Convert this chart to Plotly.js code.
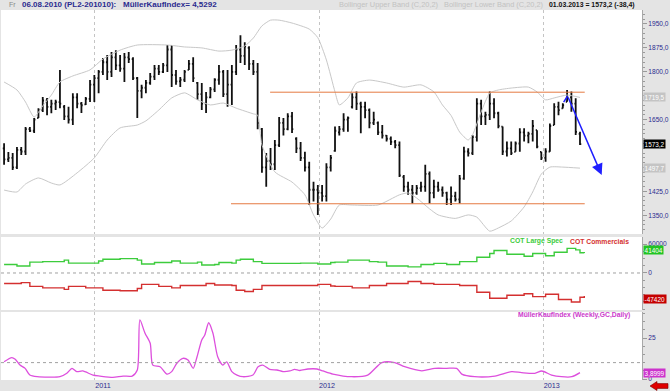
<!DOCTYPE html>
<html><head><meta charset="utf-8">
<script src="https://cdn.plot.ly/plotly-3.0.1.min.js"></script>
<style>html,body{margin:0;padding:0;background:#e4e4e4;overflow:hidden}#chart{width:670px;height:391px}</style>
</head><body><div id="chart"></div>
<script>
// ---- data (weekly bars, PL2 platinum) ----
const firstWeek = '2010-08-06';
const highs = [1576,1548,1545,1564,1564,1627,1627,1655,1686,1721,
 1718,1712,1712,1806,1696,1690,1733,1733,1705,1721,
 1774,1790,1806,1843,1853,1862,1868,1853,1859,1862,
 1846,1784,1759,1774,1796,1821,1821,1828,1884,1884,
 1806,1784,1806,1837,1846,1768,1765,1737,1752,1780,
 1821,1806,1806,1821,1884,1915,1893,1880,1837,1828,
 1624,1545,1561,1586,1658,1655,1670,1674,1595,1580,
 1549,1518,1455,1445,1445,1513,1539,1628,1630,1670,
 1660,1733,1738,1706,1706,1685,1675,1644,1633,1602,
 1597,1586,1581,1476,1455,1445,1445,1455,1508,1487,
 1461,1455,1440,1424,1440,1424,1476,1565,1560,1602,
 1717,1712,1675,1738,1717,1675,1628,1581,1581,1581,
 1623,1623,1612,1649,1617,1549,1560,1638,1701,1706,
 1701,1743,1738,1717,1612];
const lows = [1508,1517,1492,1495,1539,1539,1611,1608,1655,1674,
 1664,1670,1680,1686,1649,1638,1633,1686,1671,1696,
 1705,1705,1733,1790,1774,1784,1806,1800,1768,1828,
 1774,1655,1717,1733,1759,1774,1790,1796,1799,1752,
 1759,1752,1768,1806,1768,1712,1680,1671,1717,1737,
 1759,1721,1690,1696,1790,1828,1821,1806,1790,1620,
 1483,1439,1492,1492,1564,1600,1617,1608,1545,1520,
 1487,1382,1393,1351,1393,1393,1487,1549,1600,1612,
 1612,1685,1680,1607,1654,1623,1633,1602,1591,1581,
 1570,1560,1470,1424,1414,1387,1414,1424,1424,1387,
 1403,1424,1408,1382,1382,1393,1387,1461,1534,1539,
 1581,1633,1633,1649,1654,1623,1539,1534,1539,1549,
 1549,1581,1576,1581,1560,1523,1518,1549,1633,1664,
 1685,1706,1675,1602,1570];
const opens = [1560,1525,1530,1500,1555,1550,1620,1615,1655,1680,
 1710,1690,1700,1705,1690,1660,1650,1720,1700,1698,
 1715,1760,1780,1800,1830,1800,1845,1820,1810,1845,
 1840,1780,1740,1750,1765,1785,1810,1800,1820,1870,
 1790,1770,1775,1806,1825,1765,1730,1700,1720,1745,
 1775,1800,1730,1760,1800,1870,1850,1875,1825,1800,
 1620,1500,1520,1510,1570,1640,1620,1660,1590,1560,
 1530,1500,1430,1430,1420,1410,1500,1552,1610,1620,
 1650,1690,1720,1700,1690,1680,1640,1640,1610,1600,
 1590,1580,1570,1470,1440,1430,1420,1435,1440,1480,
 1420,1440,1430,1420,1400,1410,1400,1465,1550,1545,
 1595,1700,1660,1665,1700,1670,1628,1550,1560,1549,
 1575,1610,1600,1605,1617,1549,1530,1550,1633,1690,
 1685,1706,1720,1700,1605];
const closes = [1525,1530,1500,1555,1550,1620,1615,1650,1680,1710,
 1690,1700,1705,1700,1660,1650,1720,1700,1695,1715,
 1760,1780,1800,1830,1800,1845,1820,1810,1845,1840,
 1780,1740,1750,1765,1785,1810,1800,1820,1870,1790,
 1770,1775,1800,1825,1780,1730,1700,1720,1745,1775,
 1800,1730,1760,1800,1870,1850,1880,1825,1800,1640,
 1500,1520,1510,1570,1640,1620,1660,1620,1560,1530,
 1500,1430,1430,1420,1410,1500,1530,1615,1620,1650,
 1655,1720,1700,1690,1680,1640,1650,1610,1600,1590,
 1580,1570,1475,1440,1430,1420,1435,1440,1480,1420,
 1440,1430,1420,1400,1410,1400,1465,1550,1545,1595,
 1700,1660,1665,1700,1670,1630,1550,1560,1545,1575,
 1610,1600,1605,1630,1565,1530,1550,1630,1690,1680,
 1695,1720,1700,1611.6,1573.2];

// Bollinger bands (week number, value)
const upperWeeks = [0,3,5,7,9,11,13,16,20,23,27,31,38,42,46,50,53,56,58,60,62,64,67,71,73,75,77,78,80,82,85,89,93,97,100,102,104,106,108,109,111,113,115,118,122,124,126,128,131,134];
const upperVals  = [1768,1743,1705,1658,1693,1727,1768,1787,1806,1840,1868,1884,1884,1878,1875,1865,1868,1881,1906,1944,1962,1962,1953,1934,1907,1837,1737,1696,1718,1765,1774,1765,1752,1759,1737,1696,1663,1611,1586,1602,1674,1733,1743,1749,1752,1737,1712,1718,1727,1719.5];
const lowerWeeks = [0,3,5,8,11,13,17,21,24,27,31,33,36,39,42,45,48,51,54,58,59,60,63,67,70,72,74,76,78,81,87,92,94,96,99,101,105,108,110,113,115,118,121,123,125,127,130,134];
const lowerVals  = [1429,1423,1448,1467,1451,1445,1483,1530,1586,1624,1633,1646,1680,1718,1734,1712,1696,1702,1686,1668,1664,1570,1486,1454,1414,1351,1310,1338,1382,1382,1382,1414,1420,1404,1370,1351,1340,1351,1344,1300,1310,1332,1376,1423,1479,1501,1501,1497.7];

// COT
const cotLargeWeeks = [0,3,6,9,14,15,17,22,23,27,31,32,35,39,41,45,46,49,50,53,54,55,58,60,65,69,73,76,77,80,82,85,87,89,94,97,100,103,106,110,113,114,117,121,123,126,128,131,133,134,135];
const cotLargeVals  = [17600,14500,22400,23600,26700,20500,20500,24900,28500,29700,26700,18700,21800,24900,20500,22400,16400,17600,21800,20500,26700,28500,23600,20000,20000,20500,18700,21800,22400,26700,26700,23600,22400,14500,12700,17600,20000,17600,23600,32700,40500,46700,38700,34500,40500,35800,43000,50900,47800,41800,41404];
const cotCommWeeks = [0,4,6,9,14,15,19,23,27,31,32,36,39,41,46,47,49,53,54,56,58,60,65,69,73,76,77,81,85,89,94,97,100,106,110,113,117,121,123,126,129,132,134,135];
const cotCommVals  = [-21800,-20000,-27800,-30900,-34000,-27800,-30900,-35800,-36900,-32000,-23600,-27800,-30900,-26000,-26000,-21800,-25000,-26000,-35800,-38200,-34000,-26000,-26000,-26000,-23600,-27000,-27800,-30900,-26000,-21800,-17600,-21800,-23600,-26000,-40000,-52200,-46000,-43000,-49000,-44000,-55000,-60000,-50300,-47420];

// MüllerKaufIndex
const mkiWeeks = [0,1.8,2.6,3.7,4.9,6,7.7,13,14.6,15.8,16.9,18.3,20.7,22.3,25.3,27.7,29.8,31,31.6,32.8,34,34.6,36.3,37.9,39,40.2,41.6,42.8,44,44.9,46,46.7,47.6,48.6,49.7,50.9,51.8,53,54.2,55.6,57.9,59.1,60.2,61.8,63.5,64.9,66.5,67.6,68.8,70.7,72.8,74.2,76.5,80.9,84.6,87.9,90.9,93.2,97.2,100.2,103,105.3,106.5,109.5,114.2,118.1,120.4,123.5,125.1,127.4,129.7,132.1,134];
const mkiVals  = [10.5,13,12,8.5,6.5,2.4,1.4,1.4,3.5,6.5,4.5,4.9,2.4,1.8,1.0,1.8,1.8,5.5,36,27.9,21.8,8.5,7.5,3.0,4.5,9.6,12.6,11.6,6.5,13.6,23.8,26.8,34.3,27.9,13.6,8.5,10.5,4.5,2.4,1.4,2.4,7.5,8.5,5.9,5.5,4.5,4.9,5.9,5.2,6.1,6.1,4.9,3.0,1.4,2.4,10,10,7.5,5.0,6.5,6.5,6.5,3.0,1.4,1.8,4.5,3.9,3.5,4.9,2.4,1.4,1.4,3.8999];

// drawn lines
const resistance = {weeks:[61.9,135.1], level:1736};
const support = {weeks:[52.8,135.1], level:1386};
const arrowWeeks = [130.2,131.1,139.05];
const arrowPrices = [1705,1724,1476];
const cotZero = 0, mkiLevel = 10;

// axis ticks (labels hidden behind the value boxes are left out)
const priceTicks = [1350,1425,1650,1800,1875,1950];
const priceTickText = ['1350,0','1425,0','1650,0','1800,0','1875,0','1950,0'];
const cotTicks = [0,60000];
const cotTickText = ['0','60000'];
const mkiTicks = [0,25];
const mkiTickText = ['0','25'];
const yearTicks = ['2011-01-01','2012-01-01','2013-01-01'];
const yearText = ['2011','2012','2013'];

// ---- helpers ----
const W=670,H=391,ML=1,MR=28,MT=10,MB=11,PW=W-ML-MR,PH=H-MT-MB;
const pxX = x => (x-ML)/PW;
const pxY = y => (H-MB-y)/PH;
const t0 = Date.UTC(2010,7,6);
function wk(w){ return new Date(t0 + Math.round(w*7*86400000)).toISOString().slice(0,16).replace('T',' '); }
const dates = highs.map((_,i)=>wk(i));
const NAVY = '#2b2b8f';
const FONT = 'Liberation Sans, Arial, sans-serif';

const traces = [
 {type:'scatter',mode:'lines',x:upperWeeks.map(wk),y:upperVals,line:{color:'#c8c8c8',width:1,shape:'spline',smoothing:0.6},xaxis:'x',yaxis:'y',hoverinfo:'skip'},
 {type:'scatter',mode:'lines',x:lowerWeeks.map(wk),y:lowerVals,line:{color:'#c8c8c8',width:1,shape:'spline',smoothing:0.6},xaxis:'x',yaxis:'y',hoverinfo:'skip'},
 {type:'scatter',mode:'lines',x:resistance.weeks.map(wk),y:resistance.weeks.map(()=>resistance.level),line:{color:'#e57a42',width:1},xaxis:'x',yaxis:'y'},
 {type:'scatter',mode:'lines',x:support.weeks.map(wk),y:support.weeks.map(()=>support.level),line:{color:'#e57a42',width:1},xaxis:'x',yaxis:'y'},
 {type:'ohlc',x:dates,open:opens,high:highs,low:lows,close:closes,xaxis:'x',yaxis:'y',
  increasing:{line:{color:'#111111',width:1.8}},decreasing:{line:{color:'#111111',width:1.8}},tickwidth:0.3},
 {type:'scatter',mode:'lines',x:arrowWeeks.slice(0,2).map(wk),y:arrowPrices.slice(0,2),line:{color:'#1f1fff',width:1.5},xaxis:'x',yaxis:'y'},
 {type:'scatter',mode:'lines',x:cotLargeWeeks.map(wk),y:cotLargeVals,line:{color:'#3ccc3c',width:1.4,shape:'hv'},xaxis:'x',yaxis:'y2'},
 {type:'scatter',mode:'lines',x:cotCommWeeks.map(wk),y:cotCommVals,line:{color:'#d43030',width:1.4,shape:'hv'},xaxis:'x',yaxis:'y2'},
 {type:'scatter',mode:'lines',x:mkiWeeks.map(wk),y:mkiVals,line:{color:'#dd4fdd',width:1.3,shape:'spline',smoothing:0.7},xaxis:'x',yaxis:'y3'}
];

const yCommon = {side:'right',anchor:'x',showgrid:false,zeroline:false,showline:true,linecolor:'#a8a8a8',linewidth:1,
  ticks:'outside',ticklen:4,tickcolor:'#9a9a9a',tickmode:'array',tickfont:{family:FONT,size:6.6,color:NAVY},fixedrange:true};

function label(x,y,text,color,size,bold,extra){
  return Object.assign({xref:'paper',yref:'paper',x:pxX(x),y:pxY(y),xanchor:'left',yanchor:'middle',showarrow:false,
    text:bold?'<b>'+text+'</b>':text,font:{family:FONT,size:size,color:color}},extra||{});
}
function box(yref,val,text,bg,shift){
  return {xref:'paper',yref:yref,x:1,y:val,xanchor:'left',yanchor:'middle',xshift:1,yshift:shift||0,showarrow:false,
    text:text,bgcolor:bg,borderpad:0.6,font:{family:FONT,size:6.4,color:'#ffffff'}};
}

const layout = {
 width:W,height:H,margin:{l:ML,r:MR,t:MT,b:MB,pad:0},
 paper_bgcolor:'#e4e4e4',plot_bgcolor:'#ffffff',showlegend:false,
 xaxis:{type:'date',range:['2010-08-01','2013-06-10'],anchor:'y3',tickmode:'array',tickvals:yearTicks,ticktext:yearText,
   showgrid:true,gridcolor:'#c4c4c4',griddash:'dot',gridwidth:1,zeroline:false,showline:false,ticks:'',
   tickfont:{family:FONT,size:7.2,color:NAVY},ticklabelshift:8,rangeslider:{visible:false},fixedrange:true},
 yaxis:Object.assign({},yCommon,{domain:[pxY(234),1],range:[1291.1,1993.9],tickvals:priceTicks,ticktext:priceTickText,
   minor:{tickmode:'linear',tick0:1350,dtick:15,ticks:'outside',ticklen:2,tickcolor:'#9a9a9a',showgrid:false}}),
 yaxis2:Object.assign({},yCommon,{domain:[pxY(310),pxY(237)],range:[-76600,74500],tickvals:cotTicks,ticktext:cotTickText,
   minor:{tickmode:'linear',tick0:0,dtick:15000,ticks:'outside',ticklen:2,tickcolor:'#9a9a9a',showgrid:false}}),
 yaxis3:Object.assign({},yCommon,{domain:[0,pxY(312)],range:[-0.6,40.85],tickvals:mkiTicks,ticktext:mkiTickText,
   minor:{tickmode:'linear',tick0:0,dtick:5,ticks:'outside',ticklen:2,tickcolor:'#9a9a9a',showgrid:false}}),
 shapes:[
  {type:'line',xref:'paper',x0:0,x1:1,yref:'y2',y0:cotZero,y1:cotZero,line:{color:'#a0a0a0',width:1,dash:'dot'}},
  {type:'line',xref:'paper',x0:0,x1:1,yref:'y3',y0:mkiLevel,y1:mkiLevel,line:{color:'#a0a0a0',width:1,dash:'dot'}},
  {type:'path',xref:'paper',yref:'paper',
   path:'M'+pxX(650)+','+pxY(386)+' L'+pxX(657)+','+pxY(381.5)+' L'+pxX(657)+','+pxY(383.6)+' L'+pxX(668)+','+pxY(383.6)+
        ' L'+pxX(668)+','+pxY(388.4)+' L'+pxX(657)+','+pxY(388.4)+' L'+pxX(657)+','+pxY(390.5)+' Z',
   fillcolor:'#e00000',line:{color:'#7a0000',width:0.6}}
 ],
 annotations:[
  label(7,5,'Fr','#8a8a8a',7,false),
  label(20,5,'06.08.2010 (PL2-201010):',NAVY,8,true),
  label(121,5,'MüllerKaufIndex= 4,5292',NAVY,8,true),
  label(337,5,'Bollinger Upper Band (C,20,2)','#c2c2c2',7.4,false),
  label(442,5,'Bollinger Lower Band (C,20,2)','#c2c2c2',7.4,false),
  label(547,5,'01.03.2013 = 1573,2 (-38,4)','#111111',6.9,true),
  label(508,241,'COT Large Spec','#3ccc3c',6.8,true),
  label(568,241,'COT Commercials','#d43030',6.8,true),
  label(516,315,'MüllerKaufIndex (Weekly,GC,Daily)','#cc3acc',6.8,true),
  box('y',1719.5,'1719,5','#c4c4c4'),
  box('y',1573.2,'1573,2','#000000'),
  box('y',1497.7,'1497,7','#c4c4c4'),
  box('y2',41404,'41404','#22c422',3),
  box('y2',-47420,'-47420','#c40000',-3),
  box('y3',3.8999,'3,8999','#cc33cc'),
  {xref:'x',yref:'y',axref:'x',ayref:'y',x:wk(arrowWeeks[2]),y:arrowPrices[2],ax:wk(arrowWeeks[1]),ay:arrowPrices[1],
   showarrow:true,text:'',arrowhead:2,arrowsize:1.5,arrowwidth:1.5,arrowcolor:'#1f1fff',standoff:0,startstandoff:0}
 ]
};

Plotly.newPlot('chart',traces,layout,{staticPlot:true,displayModeBar:false});
</script>
</body></html>
